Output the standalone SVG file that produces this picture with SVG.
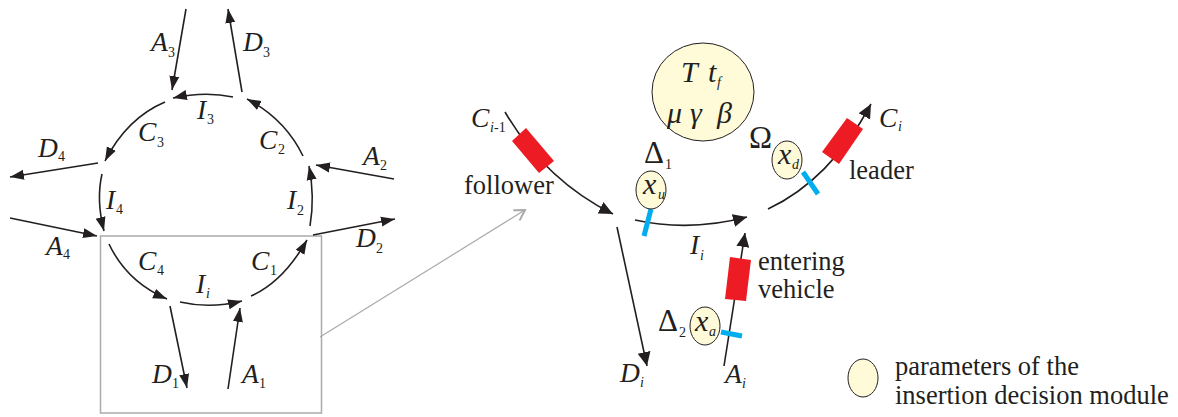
<svg xmlns="http://www.w3.org/2000/svg" width="1178" height="417" viewBox="0 0 1178 417">
<style>
text{font-family:"Liberation Serif","Times New Roman",serif;fill:#231f20;font-size:26.500px}
text.i{font-style:italic;font-size:27.500px}
text.g{font-style:italic;font-size:30px}
text.s{font-size:14px}
text.si{font-size:14px;font-style:italic}
text.o{font-size:31px}
.c{fill:none;stroke:#231f20;stroke-width:1.600}
.a{marker-end:url(#ah)}
.A{marker-end:url(#aH)}
.r{fill:#ed1c24}
.b{stroke:#00aeef;stroke-width:5;fill:none}
.e{fill:#fffbd9;stroke:#231f20;stroke-width:1}
</style>
<defs>
<marker id="ah" markerUnits="userSpaceOnUse" markerWidth="15" markerHeight="12" refX="14" refY="6" orient="auto"><path d="M0,1L14,6L0,11z" fill="#231f20"/></marker>
<marker id="aH" markerUnits="userSpaceOnUse" markerWidth="15" markerHeight="14" refX="14" refY="7" orient="auto"><path d="M0,0.500L14,7L0,13.500z" fill="#231f20"/></marker>
<marker id="ag" markerUnits="userSpaceOnUse" markerWidth="16" markerHeight="16" refX="13" refY="7" orient="auto"><path d="M3,1L13,7L3,13" fill="none" stroke="#aaa" stroke-width="2"/></marker>
</defs>
<g id="zoom-box"><rect x="100.500" y="236" width="221" height="177" fill="none" stroke="#aaa" stroke-width="1.500"/></g>
<g id="connectors">
<path class="c a" d="M186,9L172,90"/>
<path class="c a" d="M242,92L228,9"/>
<path class="c a" d="M233,97Q205,91 173,98"/>
<path class="c a" d="M303,156Q285,119 247,99"/>
<path class="c a" d="M394,179L316,165"/>
<path class="c a" d="M310,226Q315,197 309,166"/>
<path class="c a" d="M313,235L395,219"/>
<path class="c a" d="M251,296Q283,282 307,240"/>
<path class="c a" d="M180,302Q210,309 242,301"/>
<path class="c a" d="M228,389L240,308"/>
<path class="c a" d="M170,306L187,388"/>
<path class="c a" d="M109,244Q127,282 167,299"/>
<path class="c a" d="M10,218L97,236"/>
<path class="c a" d="M102,174Q96,200 104,231"/>
<path class="c a" d="M98,163L10,177"/>
<path class="c a" d="M165,102Q127,118 105,161"/>
<path d="M320,337L525,210" fill="none" stroke="#aaa" stroke-width="1.200" marker-end="url(#ag)"/>
<path class="c A" d="M505,112Q545,180 613,214"/>
<path class="c A" d="M635,220Q690,232 747,217"/>
<path class="c A" d="M768,209Q830,180 871,104"/>
<path class="c A" d="M724,366L745,233"/>
<path class="c A" d="M617,227L647,366"/>
</g>
<g id="follower"><polygon class="r" points="526,128 554,161 539,173 512,141"/><text x="464" y="194">follower</text></g>
<g id="leader"><polygon class="r" points="847,118 863,129 839,164 822,152"/><text x="849" y="179">leader</text></g>
<g id="entering"><polygon class="r" points="730,257 751,260 746,301 725,299"/><text x="758" y="270">entering</text><text x="758" y="298">vehicle</text></g>
<g id="params"><ellipse class="e" cx="703" cy="92" rx="51" ry="49"/>
<text class="g" x="681" y="82">T</text><text class="g" x="708" y="82">t</text><text class="si" x="717" y="87">f</text>
<text class="g" x="667" y="123">μ</text><text class="g" x="690" y="123">γ</text><text class="g" x="717" y="123">β</text></g>
<g id="xu"><path class="b" d="M651,209L644,236"/><ellipse class="e" cx="651" cy="190" rx="15" ry="19"/><text class="g" x="643" y="194">x</text><text class="si" x="658" y="199">u</text>
<text class="o" x="644" y="163">Δ</text><text class="s" x="665" y="169">1</text></g>
<g id="xd"><path class="b" d="M803,172L818,194"/><ellipse class="e" cx="787" cy="160" rx="15" ry="19"/><text class="g" x="778" y="164">x</text><text class="si" x="792" y="169">d</text>
<text class="o" x="749" y="148">Ω</text></g>
<g id="xa"><path class="b" d="M721,332L742,336"/><ellipse class="e" cx="705" cy="326" rx="15" ry="19"/><text class="g" x="695" y="331">x</text><text class="si" x="709" y="336">a</text>
<text class="o" x="658" y="331">Δ</text><text class="s" x="679" y="337">2</text></g>
<g id="legend"><ellipse class="e" cx="863" cy="378" rx="15" ry="19"/><text x="895" y="375">parameters of the</text><text x="895" y="404">insertion decision module</text></g>
<g id="labels">
<text class="i" x="151" y="51">A</text><text class="s" x="168" y="57">3</text>
<text class="i" x="243" y="51">D</text><text class="s" x="263" y="57">3</text>
<text class="i" x="197" y="119">I</text><text class="s" x="207" y="124">3</text>
<text class="i" x="138" y="141">C</text><text class="s" x="157" y="147">3</text>
<text class="i" x="259" y="149">C</text><text class="s" x="278" y="154">2</text>
<text class="i" x="363" y="165">A</text><text class="s" x="380" y="170">2</text>
<text class="i" x="287" y="209">I</text><text class="s" x="297" y="215">2</text>
<text class="i" x="356" y="247">D</text><text class="s" x="376" y="253">2</text>
<text class="i" x="251" y="270">C</text><text class="s" x="270" y="275">1</text>
<text class="i" x="196" y="293">I</text><text class="si" x="206" y="298">i</text>
<text class="i" x="138" y="270">C</text><text class="s" x="157" y="275">4</text>
<text class="i" x="46" y="255">A</text><text class="s" x="63" y="259">4</text>
<text class="i" x="106" y="209">I</text><text class="s" x="116" y="214">4</text>
<text class="i" x="38" y="157">D</text><text class="s" x="58" y="161">4</text>
<text class="i" x="152" y="383">D</text><text class="s" x="172" y="388">1</text>
<text class="i" x="242" y="383">A</text><text class="s" x="259" y="388">1</text>
<text class="i" x="471" y="127">C</text><text class="si" x="490" y="132">i</text><text class="s" x="494" y="132">-1</text>
<text class="i" x="879" y="127">C</text><text class="si" x="898" y="131">i</text>
<text class="i" x="690" y="254">I</text><text class="si" x="700" y="260">i</text>
<text class="i" x="620" y="382">D</text><text class="si" x="640" y="387">i</text>
<text class="i" x="725" y="383">A</text><text class="si" x="742" y="388">i</text>
</g>
</svg>
